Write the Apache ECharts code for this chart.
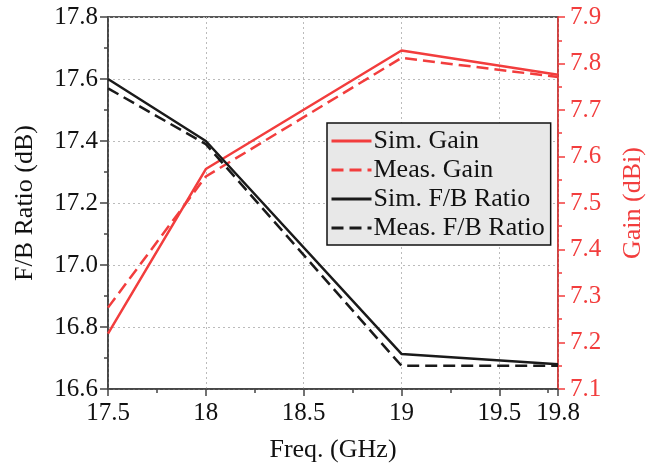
<!DOCTYPE html>
<html>
<head>
<meta charset="utf-8">
<script src="https://cdn.jsdelivr.net/npm/echarts@6/dist/echarts.min.js"></script>
<style>
  html, body { margin: 0; padding: 0; background: #fff; }
  #chart { width: 656px; height: 468px; }
</style>
</head>
<body>
<div id="chart"></div>
<script>
// Frequency points (GHz)
const freq = [17.5, 18, 19, 19.8];

// F/B ratio (dB), left axis
const simFB  = [17.60, 17.40, 16.713, 16.68];
const measFB = [17.57, 17.39, 16.675, 16.675];

// Gain (dBi), right axis
const simGain  = [7.219, 7.573, 7.828, 7.776];
const measGain = [7.275, 7.557, 7.812, 7.771];

const RED   = "#f23d3d";
const BLACK = "#1a1a1a";
const FONT  = "'Liberation Serif', 'Times New Roman', serif";

const pairs = ys => freq.map((x, i) => [x, ys[i]]);

const chart = echarts.init(document.getElementById("chart"));

chart.setOption({
  backgroundColor: "#fff",
  animation: false,
  textStyle: { fontFamily: FONT },
  grid: {
    left: 108, right: 98, top: 17, bottom: 79,
    show: true, borderColor: "#222", borderWidth: 1.5,
  },
  legend: {
    orient: "vertical",
    left: 327, top: 123,
    padding: [5, 6, 4, 3],
    itemGap: 3,
    itemWidth: 40, itemHeight: 24,
    backgroundColor: "#e8e8e8",
    borderColor: "#111", borderWidth: 1.5,
    itemStyle: { opacity: 0 },
    lineStyle: { width: 3 },
    textStyle: { fontFamily: FONT, fontSize: 26, color: "#111", padding: [0, 0, 0, -3] },
    data: ["Sim. Gain", "Meas. Gain", "Sim. F/B Ratio", "Meas. F/B Ratio"],
  },
  xAxis: {
    type: "value",
    min: 17.5, max: 19.8, interval: 0.5,
    name: "Freq. (GHz)", nameLocation: "middle", nameGap: 48,
    nameTextStyle: { fontFamily: FONT, fontSize: 26, color: "#111" },
    axisLine: { lineStyle: { color: "#444", width: 1.5 } },
    axisTick: { inside: false, length: 7, lineStyle: { color: "#444", width: 1.5 } },
    minorTick: { show: true, splitNumber: 2, length: 4, lineStyle: { color: "#444", width: 1.5 } },
    axisLabel: {
      fontFamily: FONT, fontSize: 25, color: "#111", margin: 12,
      showMinLabel: true, showMaxLabel: true,
      formatter: v => String(+v.toFixed(2)),
    },
    splitLine: { show: true, lineStyle: { color: "#bbb", type: [2, 3], width: 1 } },
  },
  yAxis: [
    {
      type: "value",
      min: 16.6, max: 17.8, interval: 0.2,
      name: "F/B Ratio (dB)", nameLocation: "middle", nameGap: 70, nameRotate: 90,
      nameTextStyle: { fontFamily: FONT, fontSize: 26, color: "#111" },
      axisLine: { show: true, lineStyle: { color: "#444", width: 1.5 } },
      axisTick: { show: true, length: 8, lineStyle: { color: "#444", width: 1.5 } },
      minorTick: { show: true, splitNumber: 2, length: 4, lineStyle: { color: "#444", width: 1.5 } },
      axisLabel: { fontFamily: FONT, fontSize: 25, color: "#111", margin: 10, formatter: v => v.toFixed(1) },
      splitLine: { show: true, lineStyle: { color: "#bbb", type: [2, 3], width: 1 } },
    },
    {
      type: "value",
      min: 7.1, max: 7.9, interval: 0.1,
      name: "Gain (dBi)", nameLocation: "middle", nameGap: 62, nameRotate: 90,
      nameTextStyle: { fontFamily: FONT, fontSize: 26, color: RED },
      axisLine: { show: true, lineStyle: { color: RED, width: 1.5 } },
      axisTick: { show: true, length: 7, lineStyle: { color: RED, width: 1.5 } },
      minorTick: { show: true, splitNumber: 2, length: 4, lineStyle: { color: RED, width: 1.5 } },
      axisLabel: { fontFamily: FONT, fontSize: 25, color: RED, margin: 12, formatter: v => v.toFixed(1) },
      splitLine: { show: false },
    },
  ],
  series: [
    {
      name: "Sim. Gain", type: "line", yAxisIndex: 1, symbol: "none",
      data: pairs(simGain),
      lineStyle: { color: RED, width: 2.5 }, itemStyle: { color: RED },
    },
    {
      name: "Meas. Gain", type: "line", yAxisIndex: 1, symbol: "none",
      data: pairs(measGain),
      lineStyle: { color: RED, width: 2.5, type: [12, 6] }, itemStyle: { color: RED },
    },
    {
      name: "Sim. F/B Ratio", type: "line", yAxisIndex: 0, symbol: "none",
      data: pairs(simFB),
      lineStyle: { color: BLACK, width: 2.5 }, itemStyle: { color: BLACK },
    },
    {
      name: "Meas. F/B Ratio", type: "line", yAxisIndex: 0, symbol: "none",
      data: pairs(measFB),
      lineStyle: { color: BLACK, width: 2.5, type: [12, 6] }, itemStyle: { color: BLACK },
    },
  ],
});
</script>
</body>
</html>
